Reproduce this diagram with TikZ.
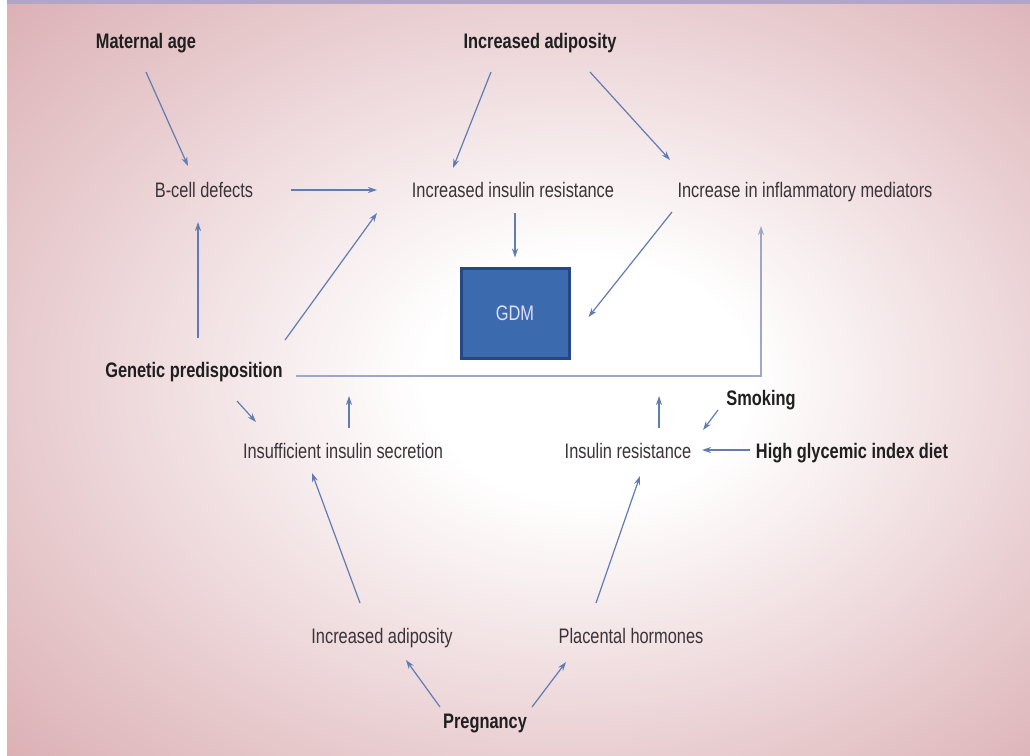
\documentclass[tikz,border=0pt]{standalone}
\usepackage{fontspec}
\setmainfont{Liberation Sans}[FakeStretch=0.78]
\usepackage{tikz}
\usetikzlibrary{shapes,arrows.meta,calc,positioning}
\definecolor{rosebg}{RGB}{210,156,162}
\definecolor{rosemid}{RGB}{232,204,207}
\definecolor{topband}{RGB}{178,166,200}
\definecolor{arrowblue}{RGB}{96,124,178}
\definecolor{linkline}{RGB}{158,168,198}
\definecolor{gdmfill}{RGB}{60,106,174}
\definecolor{gdmedge}{RGB}{38,72,130}
\definecolor{txtgray}{RGB}{58,52,56}
\pgfdeclareradialshading{pinkglow}{\pgfpoint{4bp}{0bp}}{color(0bp)=(white); color(8bp)=(white); color(26bp)=(rosemid); color(44bp)=(rosebg); color(50bp)=(rosebg)}

\begin{document}
\begin{tikzpicture}[x=1pt,y=-1pt,
    lbl/.style={anchor=base,inner sep=0pt,text=txtgray,font=\fontsize{21}{24}\selectfont},
    keylbl/.style={lbl,text=black!88,font=\fontsize{21}{24}\selectfont\bfseries},
    gdmbox/.style={draw=gdmedge,line width=3pt,fill=gdmfill,text=white!88!blue,
        minimum width=108pt,minimum height=90pt,inner sep=0pt,font=\fontsize{21}{24}\selectfont},
    arr/.style={draw=arrowblue,line width=1.2pt,-{Stealth[length=9pt,width=6pt]}},
    link/.style={draw=linkline,line width=2.4pt}]
\useasboundingbox (0,0) rectangle (1030,755);
% background
\fill[white] (0,0) rectangle (1030,755);
\shade[shading=pinkglow] (7,4) rectangle (1030,755);
\fill[topband] (7,0) rectangle (1030,4);

% top row
\node[keylbl] (matage)   at (146,48) {Maternal age};
\node[keylbl] (topadip)  at (540,48) {Increased adiposity};
\node[lbl]    (bcell)    at (204,197) {B-cell defects};
\node[lbl]    (incres)   at (513,197) {Increased insulin resistance};
\node[lbl]    (inflam)   at (805,197) {Increase in inflammatory mediators};
\node[gdmbox] (gdm)      at (515,313) {GDM};
% middle
\node[keylbl] (genetic)  at (194,377) {Genetic predisposition};
\node[keylbl] (smoking)  at (761,405) {Smoking};
\node[lbl]    (insuff)   at (343,458) {Insufficient insulin secretion};
\node[lbl]    (insres)   at (628,458) {Insulin resistance};
\node[keylbl] (glycemic) at (852,458) {High glycemic index diet};
% bottom
\node[lbl]    (lowadip)  at (382,643) {Increased adiposity};
\node[lbl]    (placenta) at (631,643) {Placental hormones};
\node[keylbl] (pregnant) at (485,728) {Pregnancy};

% arrows
\draw[arr] ($(matage.base)+(0,24)$) -- ($(bcell.base)+(-16,-31)$);
\draw[arr] ($(topadip.base)+(-49,24)$) -- ($(incres.base)+(-60,-29)$);
\draw[arr] ($(topadip.base)+(50,24)$) -- ($(inflam.base)+(-135,-37)$);
\draw[arr] ($(bcell.base)+(87,-7)$) -- ($(incres.base)+(-136,-7)$);
\draw[arr] ($(incres.base)+(2,16)$) -- ($(gdm.north)+(0,-9)$);
\draw[arr] ($(inflam.base)+(-133,15)$) -- ($(gdm.east)+(18,4)$);
\draw[arr] ($(genetic.base)+(4,-39)$) -- ($(bcell.base)+(-6,25)$);
\draw[arr] ($(genetic.base)+(91,-37)$) -- ($(incres.base)+(-136,16)$);
\draw[link] ($(genetic.base)+(102,-1)$) -| ($(inflam.base)+(-44,40)$);
\draw[arr,draw=linkline] ($(inflam.base)+(-44,42)$) -- ($(inflam.base)+(-44,29)$);
\draw[arr] ($(genetic.base)+(43,24)$) -- ($(insuff.base)+(-87,-36)$);
\draw[arr] ($(insuff.base)+(6,-30)$) -- ++(0,-32);
\draw[arr] ($(insres.base)+(31,-30)$) -- ++(0,-32);
\draw[arr] ($(smoking.base)+(-43,5)$) -- ($(insres.base)+(75,-28)$);
\draw[arr] ($(glycemic.base)+(-102,-8)$) -- ($(insres.base)+(74,-8)$);
\draw[arr] ($(lowadip.base)+(-22,-40)$) -- ($(insuff.base)+(-31,15)$);
\draw[arr] ($(placenta.base)+(-35,-40)$) -- ($(insres.base)+(12,18)$);
\draw[arr] ($(pregnant.base)+(-45,-21)$) -- ($(lowadip.base)+(24,17)$);
\draw[arr] ($(pregnant.base)+(47,-21)$) -- ($(placenta.base)+(-65,19)$);
\end{tikzpicture}
\end{document}
